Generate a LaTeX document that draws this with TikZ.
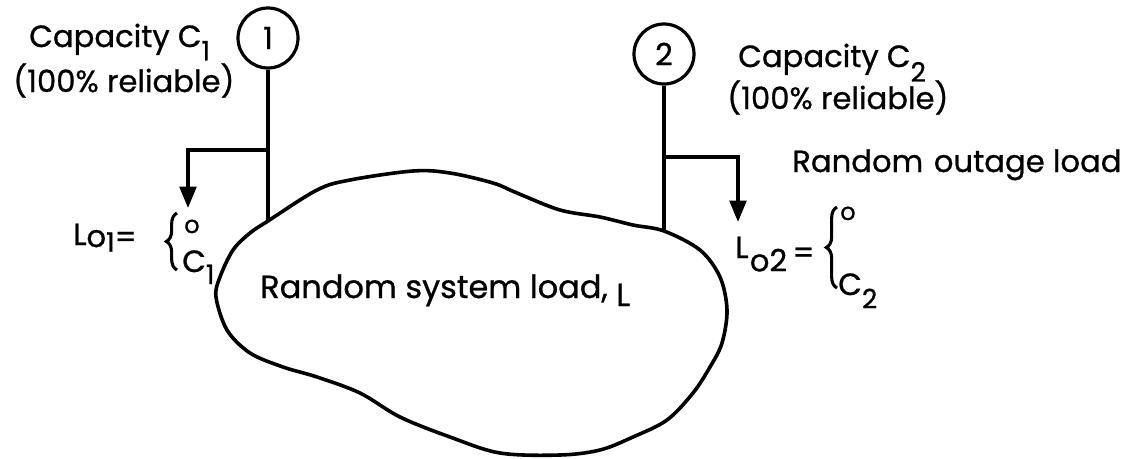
\documentclass[tikz,border=0pt]{standalone}
\usepackage{fontspec}
\setmainfont{Poppins}[FakeBold=0.8]
\usetikzlibrary{arrows.meta,decorations.pathreplacing}
\newcommand{\subx}[2]{\raisebox{#1}{\fontsize{20}{22}\selectfont #2}}
\begin{document}
\begin{tikzpicture}[x=0.75pt,y=-0.75pt,
  lbl/.style={anchor=base west, inner sep=0pt, font=\fontsize{23}{27}\selectfont},
  gen/.style={circle, draw, line width=2.4pt, minimum size=45pt, inner sep=0pt, font=\fontsize{23}{27}\selectfont},
  wire/.style={line width=2.5pt},
  feed/.style={line width=2.5pt, -{Triangle[length=16pt,width=12.5pt]}},
  blobline/.style={line width=2.7pt},
  brc/.style={line width=2.3pt, decorate, decoration={brace, amplitude=8pt}}]
\useasboundingbox (0,0) rectangle (1122,458);

% generators
\node[gen] (g1) at (268,38) {1};
\node[gen] (g2) at (664,54) {2};

\coordinate (j1) at (268,221);
\coordinate (b1) at (268,150);
\coordinate (t1) at (188,150);
\coordinate (a1) at (188,208);
\coordinate (j2) at (664,231);
\coordinate (b2) at (664,157);
\coordinate (t2) at (738,157);
\coordinate (a2) at (738,222);

\draw[wire] (g1.south) -- (j1);
\draw[wire] (g2.south) -- (j2);
\draw[feed] (b1) -- (t1) -- (a1);
\draw[feed] (b2) -- (t2) -- (a2);

% system load blob
\draw[blobline] plot[smooth cycle, tension=0.55] coordinates {
 (268,221) (317,190) (350,180) (413,171) (450,173) (493,183) (517,193)
 (560,210) (600,217) (633,225) (664,231) (700,250) (720,277) (727,310)
 (722,343) (710,367) (693,393) (667,420) (633,437) (600,450) (560,455)
 (500,453) (450,437) (400,417) (360,393) (317,377) (283,367) (250,353)
 (227,330) (216,297) (220,277) (233,250) (250,233)};

\node[lbl, font=\fontsize{24}{28}\selectfont] (sys) at (260,298) {Random system load, \raisebox{-6pt}{L}};

% labels
\node[lbl] (cap1) at (29,47) {Capacity C\subx{-10pt}{1}};
\node[lbl] (rel1) at (13,92) {(100\% reliable)};
\node[lbl] (cap2) at (738,67) {Capacity C\subx{-11pt}{2}};
\node[lbl] (rel2) at (727,109) {(100\% reliable)};
\node[lbl] (rout) at (792,172) {Random\hspace{8pt}outage load};

% outage load 1
\node[lbl] (lo1) at (73,245) {L\raisebox{-1.5pt}{o}\subx{-5pt}{1}\raisebox{-2pt}{=}};
\draw[brc] (177,270) -- (177,213);
\node[lbl] (z1) at (184,233) {\fontsize{18}{20}\selectfont o};
\node[lbl] (c1) at (182,272) {C\subx{-9pt}{1}};

% outage load 2
\node[lbl] (lo2) at (735,258) {L\hspace{1pt}\raisebox{-10pt}{o2}\hspace{4pt}\raisebox{-4pt}{=}};
\draw[brc] (837,288) -- (837,207);
\node[lbl] (z2) at (840,220) {\fontsize{18}{20}\selectfont o};
\node[lbl] (c2) at (838,295) {C\subx{-10pt}{2}};
\end{tikzpicture}
\end{document}
